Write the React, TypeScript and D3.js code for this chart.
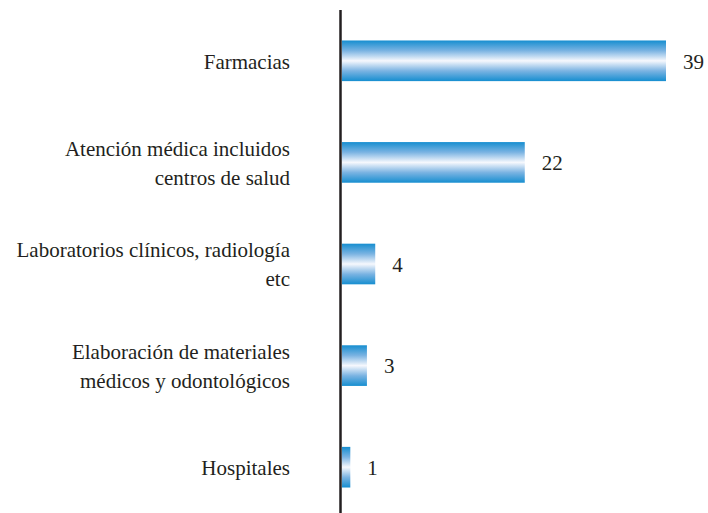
import React from "react";
import * as d3 from "d3";

const categories: string[][] = [
  ["Farmacias"],
  ["Atención médica incluidos", "centros de salud"],
  ["Laboratorios clínicos, radiología", "etc"],
  ["Elaboración de materiales", "médicos y odontológicos"],
  ["Hospitales"],
];
const values: number[] = [39, 22, 4, 3, 1];

const W = 708;
const H = 513;

export default function App() {
  const ids = categories.map((_, i) => String(i));
  const y = d3.scaleBand<string>().domain(ids).range([10, 518]).paddingInner(0.6).paddingOuter(0.3);
  const x = d3.scaleLinear().domain([0, 39]).range([342, 666]);
  const fs = 21;
  const lh = 29;
  const color = "#231f20";
  return (
    <svg width={W} height={H} style={{ position: "absolute", left: 0, top: 0, fontFamily: "Liberation Serif" }}>
      <defs>
        <linearGradient id="barGrad" x1="0" y1="0" x2="0" y2="1">
          <stop offset="0" stopColor="#168ed0" />
          <stop offset="0.25" stopColor="#7ab3e2" />
          <stop offset="0.5" stopColor="#f6f8fd" />
          <stop offset="0.75" stopColor="#7ab3e2" />
          <stop offset="1" stopColor="#168ed0" />
        </linearGradient>
      </defs>
      {values.map((v, i) => {
        const yy = y(String(i))!;
        const bw = y.bandwidth();
        const cy = yy + bw / 2;
        const lines = categories[i];
        const startY = cy - ((lines.length - 1) * lh) / 2;
        return (
          <g key={i}>
            <rect x={x(0)} y={yy} width={x(v) - x(0)} height={bw} fill="url(#barGrad)" />
            <text x={x(v) + 17} y={cy + 7.8} fontSize={fs} fill={color}>
              {v}
            </text>
            {lines.map((l, j) => (
              <text key={j} x={290} y={startY + j * lh + 7.8} textAnchor="end" fontSize={fs} fill={color}>
                {l}
              </text>
            ))}
          </g>
        );
      })}
      <line x1={340.5} x2={340.5} y1={10} y2={H} stroke={color} strokeWidth={2.5} />
    </svg>
  );
}
